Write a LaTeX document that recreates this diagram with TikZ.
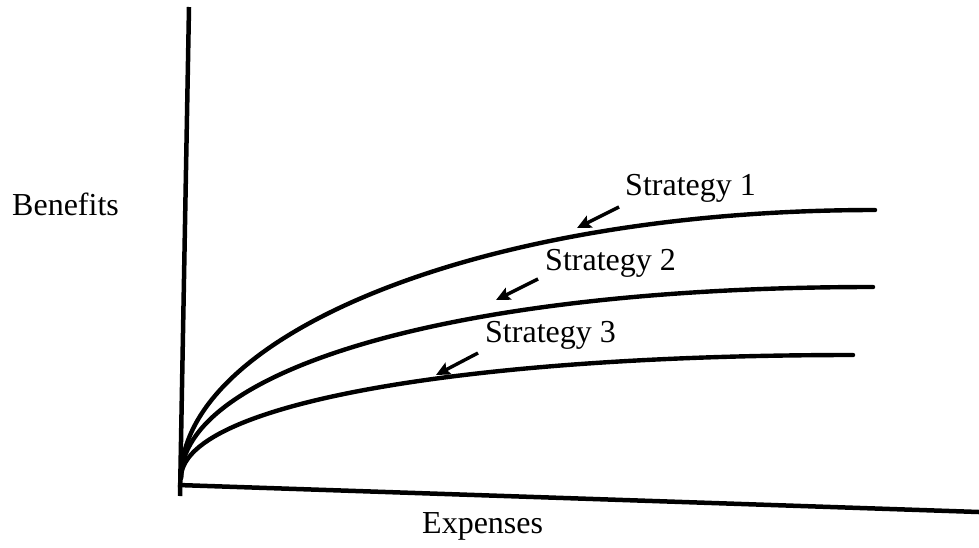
\documentclass[tikz,border=0pt]{standalone}
\usepackage{fontspec}
\setmainfont{Liberation Serif}
\usetikzlibrary{arrows.meta}
\begin{document}
\begin{tikzpicture}[x=1pt,y=-1pt,
  axisline/.style={line width=4.5pt},
  curveline/.style={line width=4.4pt,line cap=round,line join=round},
  pointer/.style={line width=3.4pt,-{Stealth[length=14pt,width=13pt,inset=2.5pt]}},
  lbl/.style={anchor=base west,inner sep=0pt,font=\fontsize{32}{38}\selectfont}]
\useasboundingbox (0,0) rectangle (979,547);
% axes
\coordinate (ytop) at (189,7);
\coordinate (ybot) at (180,496);
\coordinate (xleft) at (178,485);
\coordinate (xright) at (979,512);
\coordinate (o) at (181,478);
\draw[axisline] (ytop) -- (ybot);
\draw[axisline] (xleft) -- (xright);
% curves
\coordinate (e1) at (875,210);
\coordinate (e2) at (873,287);
\coordinate (e3) at (853,355);
\draw[curveline] (o) .. controls (181,337) and (475,210) .. (e1);
\draw[curveline] (o) .. controls (181,373) and (443,287) .. (e2);
\draw[curveline] (o) .. controls (181,406) and (453,355) .. (e3);
% labels
\node[lbl] (benefits) at (12,215) {Benefits};
\node[lbl] (expenses) at (422,533) {Expenses};
\node[lbl] (s1) at (625,195) {Strategy 1};
\node[lbl] (s2) at (545,270) {Strategy 2};
\node[lbl] (s3) at (485,342) {Strategy 3};
% pointers
\coordinate (a1) at (619,207); \coordinate (b1) at (577,228);
\coordinate (a2) at (538,279); \coordinate (b2) at (496,300);
\coordinate (a3) at (478,353); \coordinate (b3) at (436,375);
\draw[pointer] (a1) -- (b1);
\draw[pointer] (a2) -- (b2);
\draw[pointer] (a3) -- (b3);
\end{tikzpicture}
\end{document}
